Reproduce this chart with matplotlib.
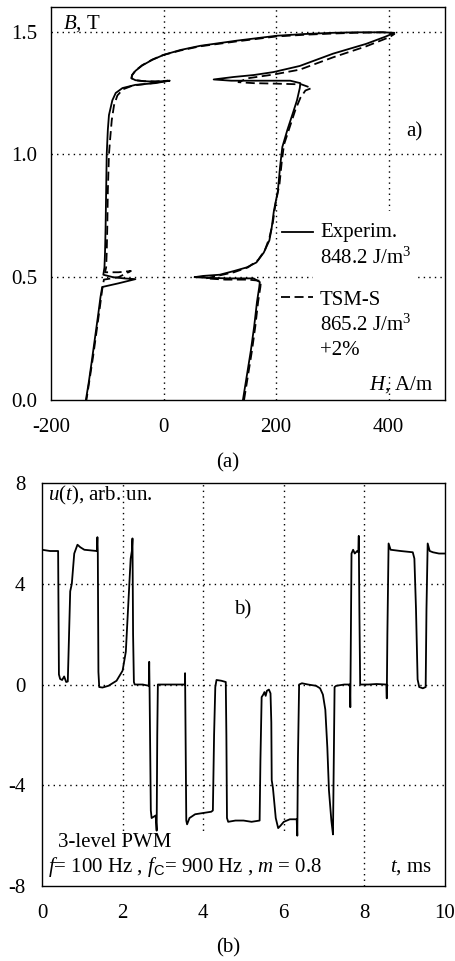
import matplotlib
matplotlib.use("Agg")
import matplotlib.pyplot as plt
from matplotlib.patches import Rectangle

plt.rcParams['font.family'] = ['Liberation Serif', 'DejaVu Serif']
plt.rcParams['mathtext.fontset'] = 'custom'
plt.rcParams['mathtext.rm'] = 'Liberation Serif'
plt.rcParams['mathtext.it'] = 'Liberation Serif:italic'
plt.rcParams['mathtext.sf'] = 'Liberation Sans'

# ---------------- data: (a) hysteresis loop ----------------
H_exp = [141, 148, 155, 161, 166, 170, 171, 160, 120, 80, 55, 70, 100, 125, 148, 165, 178, 188,
         192, 196, 203, 207, 211, 220, 230, 237, 242, 243, 225, 180, 120, 89, 124, 160, 195, 242,
         301, 360, 395, 410, 390, 340, 301, 250, 201, 130, 65, 30, 0, -20, -38, -50, -56, -57,
         -50, -35, -15, 11,
         -15, -50, -73, -85, -91, -97, -99, -101, -102, -103, -104, -105, -107, -90, -70, -50,
         -80, -109, -112, -116, -122, -128, -133, -138]
B_exp = [0.00, 0.10, 0.20, 0.30, 0.40, 0.46, 0.48, 0.495, 0.495, 0.497, 0.500, 0.505, 0.51,
         0.525, 0.54, 0.56, 0.60, 0.65, 0.70, 0.77, 0.85, 0.95, 1.03, 1.10, 1.17, 1.22, 1.27,
         1.29, 1.30, 1.30, 1.30, 1.305, 1.315, 1.323, 1.335, 1.36, 1.41, 1.45, 1.48, 1.495,
         1.497, 1.497, 1.495, 1.49, 1.483, 1.463, 1.442, 1.425, 1.405, 1.385, 1.362, 1.34,
         1.322, 1.31, 1.302, 1.298, 1.296, 1.30,
         1.29, 1.283, 1.27, 1.25, 1.22, 1.16, 1.10, 1.00, 0.85, 0.70, 0.60, 0.54, 0.51,
         0.50, 0.495, 0.492, 0.475, 0.46, 0.42, 0.35, 0.25, 0.15, 0.07, 0.00]

H_tsm = [143, 150, 157, 163, 168, 172, 173, 150, 110, 75, 95, 125, 150, 168, 180, 188, 194, 199,
         206, 210, 214, 224, 234, 243, 252, 263, 245, 200, 160, 133, 150, 195, 242, 301, 360, 401,
         410, 390, 340, 300, 250, 200, 130, 65, 30, 0, -20, -38, -50, -56, -57, -50, -35, -15, 8,
         -20, -55, -72, -82,
         -88, -92, -95, -97, -99, -100, -101, -102, -104, -80, -58, -80, -106, -109, -113, -119,
         -125, -131, -137]
B_tsm = [0.00, 0.10, 0.20, 0.30, 0.40, 0.46, 0.485, 0.49, 0.49, 0.495, 0.505, 0.52, 0.54, 0.57,
         0.61, 0.66, 0.72, 0.80, 0.88, 0.97, 1.04, 1.11, 1.18, 1.23, 1.26, 1.27, 1.285, 1.288,
         1.29, 1.294, 1.31, 1.325, 1.345, 1.395, 1.44, 1.477, 1.49, 1.497, 1.495, 1.492, 1.487,
         1.48, 1.46, 1.44, 1.423, 1.405, 1.386, 1.363, 1.341, 1.323, 1.31, 1.302, 1.298, 1.297,
         1.30, 1.29, 1.28, 1.265, 1.24,
         1.20, 1.14, 1.06, 1.00, 0.85, 0.70, 0.60, 0.54, 0.52, 0.52, 0.525, 0.50, 0.49, 0.45,
         0.38, 0.28, 0.18, 0.09, 0.00]

# ---------------- data: (b) 3-level PWM voltage ----------------
t_ms = [0.00, 0.20, 0.40, 0.42, 0.45, 0.50, 0.55, 0.60, 0.64, 0.68, 0.70, 0.74, 0.80, 0.88,
        0.95, 1.05, 1.36, 1.375, 1.385, 1.40, 1.42, 1.50, 1.65, 1.85, 2.00, 2.08, 2.15, 2.20,
        2.23, 2.245, 2.26, 2.28, 2.30, 2.50, 2.65, 2.66, 2.67, 2.70, 2.72, 2.82, 2.845, 2.86,
        2.875, 3.20, 3.545, 3.55, 3.56, 3.58, 3.60, 3.66, 3.80, 4.00, 4.20, 4.24, 4.27, 4.30,
        4.33, 4.45, 4.56, 4.575, 4.59, 4.62, 4.80, 5.00, 5.20, 5.40, 5.42, 5.45, 5.49, 5.52,
        5.55, 5.58, 5.63, 5.67, 5.69, 5.70, 5.73, 5.80, 5.86, 5.92, 6.00, 6.15, 6.32, 6.335,
        6.35, 6.38, 6.45, 6.60, 6.80, 6.90, 6.97, 7.03, 7.08, 7.12, 7.18, 7.22, 7.24, 7.26,
        7.30, 7.50, 7.64, 7.65, 7.66, 7.68, 7.72, 7.76, 7.82, 7.85, 7.86, 7.875, 7.895, 8.10,
        8.30, 8.545, 8.555, 8.57, 8.60, 8.65, 8.90, 9.20, 9.24, 9.28, 9.32, 9.36, 9.45, 9.52,
        9.54, 9.57, 9.62, 9.70, 9.85, 10.0]
u_t = [5.35, 5.30, 5.30, 0.40, 0.22, 0.18, 0.32, 0.10, 0.12, 2.5, 3.7, 4.0, 5.2, 5.55,
       5.45, 5.35, 5.30, 5.85, 5.2, 0.5, -0.10, -0.12, -0.05, 0.15, 0.55, 1.3, 3.5, 5.0,
       5.3, 5.8, 2.0, 0.1, 0.0, 0.0, -0.05, 0.9, -0.3, -5.0, -5.3, -5.2, -5.8, -2.0,
       0.0, 0.0, 0.0, 0.45, -1.5, -5.4, -5.55, -5.3, -5.15, -5.1, -5.05, -5.0, -2.0, -0.1,
       0.18, 0.15, 0.1, -2.0, -5.3, -5.45, -5.4, -5.4, -5.45, -5.4, -3.0, -0.5, -0.4, -0.3,
       -0.45, -0.25, -0.2, -0.35, -1.5, -3.8, -4.1, -5.3, -5.7, -5.6, -5.45, -5.35, -5.35, -6.0,
       -3.0, 0.0, 0.05, 0.0, -0.05, -0.15, -0.4, -1.0, -2.5, -4.2, -5.4, -5.95, -3.0, -0.1,
       -0.05, 0.0, 0.0, -0.9, 1.0, 5.2, 5.35, 5.2, 5.3, 5.25, 5.9, 3.0, 0.0, 0.0,
       0.02, 0.0, -0.55, 2.0, 5.6, 5.35, 5.3, 5.25, 5.0, 3.0, 0.2, -0.1, -0.15, -0.1,
       3.0, 5.6, 5.3, 5.25, 5.2, 5.2]

a_xticks = [-200, 0, 200, 400]
a_xticklabels = ['-200', '0', '200', '400']
a_yticks = [0.0, 0.5, 1.0, 1.5]
a_yticklabels = ['0.0', '0.5', '1.0', '1.5']
b_xticks = [0, 2, 4, 6, 8, 10]
b_yticks = [-8, -4, 0, 4, 8]

# ---------------- figure ----------------
fig = plt.figure(figsize=(4.56, 9.61), dpi=100)
ax1 = fig.add_axes([0.1118, 0.5838, 0.8641, 0.4089])
ax2 = fig.add_axes([0.0921, 0.0780, 0.8838, 0.4194])

grid_kw = dict(color='black', linestyle=(0, (1, 3)), linewidth=1.0, zorder=0.5)

# ---- (a) ----
ax1.set_xlim(-200, 500)
ax1.set_ylim(0, 1.6)
for v in [0, 200, 400]:
    ax1.axvline(v, **grid_kw)
for v in [0.5, 1.0, 1.5]:
    ax1.axhline(v, **grid_kw)
ax1.add_patch(Rectangle((0.665, 0.068), 0.264, 0.413, transform=ax1.transAxes,
                        facecolor='white', edgecolor='none', zorder=1))
ax1.plot(H_exp, B_exp, color='black', lw=1.3, zorder=3)
ax1.plot(H_tsm, B_tsm, color='black', lw=1.3, linestyle=(0, (5, 2.5)), zorder=3)
ax1.set_xticks(a_xticks)
ax1.set_xticklabels(a_xticklabels)
ax1.set_yticks(a_yticks)
ax1.set_yticklabels(a_yticklabels)
ax1.tick_params(axis='both', length=0, labelsize=15)
ax1.tick_params(axis='x', pad=13)
ax1.tick_params(axis='y', pad=10)

ax1.plot([0.587, 0.665], [0.428, 0.428], transform=ax1.transAxes, color='black', lw=1.3, zorder=4)
ax1.plot([0.583, 0.665], [0.262, 0.262], transform=ax1.transAxes, color='black', lw=1.3,
         linestyle=(0, (5, 2.5)), zorder=4)
tk = dict(transform=ax1.transAxes, fontsize=15, va='center', zorder=5)
ax1.text(0.683, 0.425, 'Experim.', ha='left', **tk)
ax1.text(0.683, 0.362, r'848.2 J/m$^3$', ha='left', **tk)
ax1.text(0.683, 0.254, 'TSM-S', ha='left', **tk)
ax1.text(0.683, 0.190, r'865.2 J/m$^3$', ha='left', **tk)
ax1.text(0.683, 0.127, '+2%', ha='left', **tk)
ax1.text(0.970, 0.038, r'$H$, A/m', ha='right', **tk)
ax1.text(0.030, 0.958, r'$B$, T', ha='left', **tk)
ax1.text(0.921, 0.682, 'a)', ha='center', **tk)

# ---- (b) ----
ax2.set_xlim(0, 10)
ax2.set_ylim(-8, 8)
for v in [2, 4, 6, 8]:
    ax2.axvline(v, **grid_kw)
for v in [-4, 0, 4]:
    ax2.axhline(v, **grid_kw)
ax2.add_patch(Rectangle((0.0, 0.0), 0.77, 0.13, transform=ax2.transAxes,
                        facecolor='white', edgecolor='none', zorder=1))
ax2.plot(t_ms, u_t, color='black', lw=1.3, zorder=3)
ax2.set_xticks(b_xticks)
ax2.set_xticklabels([str(v) for v in b_xticks])
ax2.set_yticks(b_yticks)
ax2.set_yticklabels([str(v) for v in b_yticks])
ax2.tick_params(axis='both', length=0, labelsize=15)
ax2.tick_params(axis='x', pad=13)
ax2.tick_params(axis='y', pad=12)

tb = dict(transform=ax2.transAxes, fontsize=15, va='center', zorder=5)
ax2.text(0.015, 0.970, r'$u$($t$), arb. un.', ha='left', **tb)
ax2.text(0.499, 0.685, 'b)', ha='center', **tb)
ax2.text(0.040, 0.107, '3-level PWM', ha='left', **tb)
ax2.text(0.015, 0.047, r'$f$= 100 Hz , $f_{\mathsf{C}}$= 900 Hz , $m$ = 0.8', ha='left', **tb)
ax2.text(0.968, 0.047, r'$t$, ms', ha='right', **tb)

for ax in (ax1, ax2):
    for s in ax.spines.values():
        s.set_linewidth(1.0)
        s.set_zorder(6)

fig.text(0.5, 0.518, '(a)', ha='center', va='center', fontsize=15)
fig.text(0.5, 0.0135, '(b)', ha='center', va='center', fontsize=15)

fig.savefig('out.png', dpi=100)
